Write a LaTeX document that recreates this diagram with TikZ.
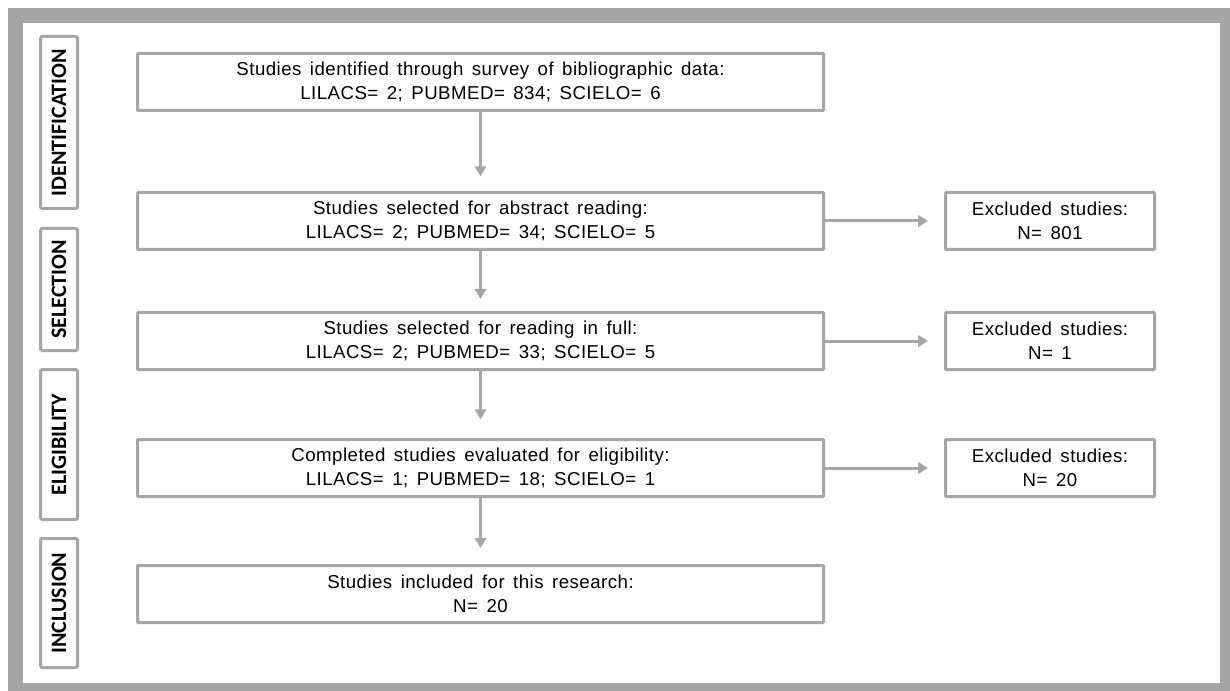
\documentclass[tikz,border=0pt]{standalone}
\usepackage{fontspec}
\setmainfont{Liberation Sans}[LetterSpace=2.5, WordSpace=1.5]
\newfontfamily\sidefont{Carlito}
\usepackage{tikz}
\usetikzlibrary{arrows.meta,positioning}

\definecolor{framegray}{HTML}{A6A6A6}

\begin{document}
\begin{tikzpicture}[x=0.75pt, y=-0.75pt, node distance=59.25pt,
        box/.style={rectangle, draw=framegray, line width=2.25pt, rounded corners=0.6pt, minimum width=514.5pt, minimum height=42.75pt, align=center, inner sep=0pt, font=\fontsize{14}{18}\selectfont},
        excl/.style={box, minimum width=156.75pt},
        phase/.style={rectangle, draw=framegray, line width=2.25pt, rounded corners=1.5pt, rotate=90, minimum height=27.75pt, inner sep=0pt, font=\sidefont\bfseries\fontsize{16.5}{18}\selectfont},
        arr/.style={-{Triangle[width=8.5pt,length=7.5pt]}, draw=framegray, line width=2.25pt}]

        % outer frame
        \fill[framegray] (8,8) rectangle (1230,691);
        \fill[white] (23,23) rectangle (1220,683);
        \useasboundingbox (0,0) rectangle (1230,691);

        % phases
        \node[phase, minimum width=129pt] (ident) at (59,122.5) {IDENTIFICATION};
        \node[phase, minimum width=91.5pt] (select) at (59,289.5) {SELECTION};
        \node[phase, minimum width=112.5pt] (elig) at (59,444.5) {ELIGIBILITY};
        \node[phase, minimum width=96.75pt] (incl) at (59,603) {INCLUSION};

        % main flow
        \node[box] (found) at (480.5,82) {Studies identified through survey of bibliographic data:\\LILACS= 2; PUBMED= 834; SCIELO= 6};
        \node[box, below=of found] (abstr) {Studies selected for abstract reading:\\LILACS= 2; PUBMED= 34; SCIELO= 5};
        \node[box, below=45pt of abstr] (full) {Studies selected for reading in full:\\LILACS= 2; PUBMED= 33; SCIELO= 5};
        \node[box, below=50.25pt of full] (eval) {Completed studies evaluated for eligibility:\\LILACS= 1; PUBMED= 18; SCIELO= 1};
        \node[box, below=49.5pt of eval] (incd) {Studies included for this research:\\N= 20};

        % excluded
        \node[excl, right=89.25pt of abstr] (exabstr) {Excluded studies:\\N= 801};
        \node[excl, right=89.25pt of full] (exfull) {Excluded studies:\\N= 1};
        \node[excl, right=89.25pt of eval] (exeval) {Excluded studies:\\N= 20};

        \draw[arr, shorten >=11pt] (found) -- (abstr);
        \draw[arr, shorten >=9pt] (abstr) -- (full);
        \draw[arr, shorten >=14pt] (full) -- (eval);
        \draw[arr, shorten >=12pt] (eval) -- (incd);
        \draw[arr, shorten >=12pt] (abstr) -- (exabstr);
        \draw[arr, shorten >=12pt] (full) -- (exfull);
        \draw[arr, shorten >=12pt] (eval) -- (exeval);
    \end{tikzpicture}
\end{document}
